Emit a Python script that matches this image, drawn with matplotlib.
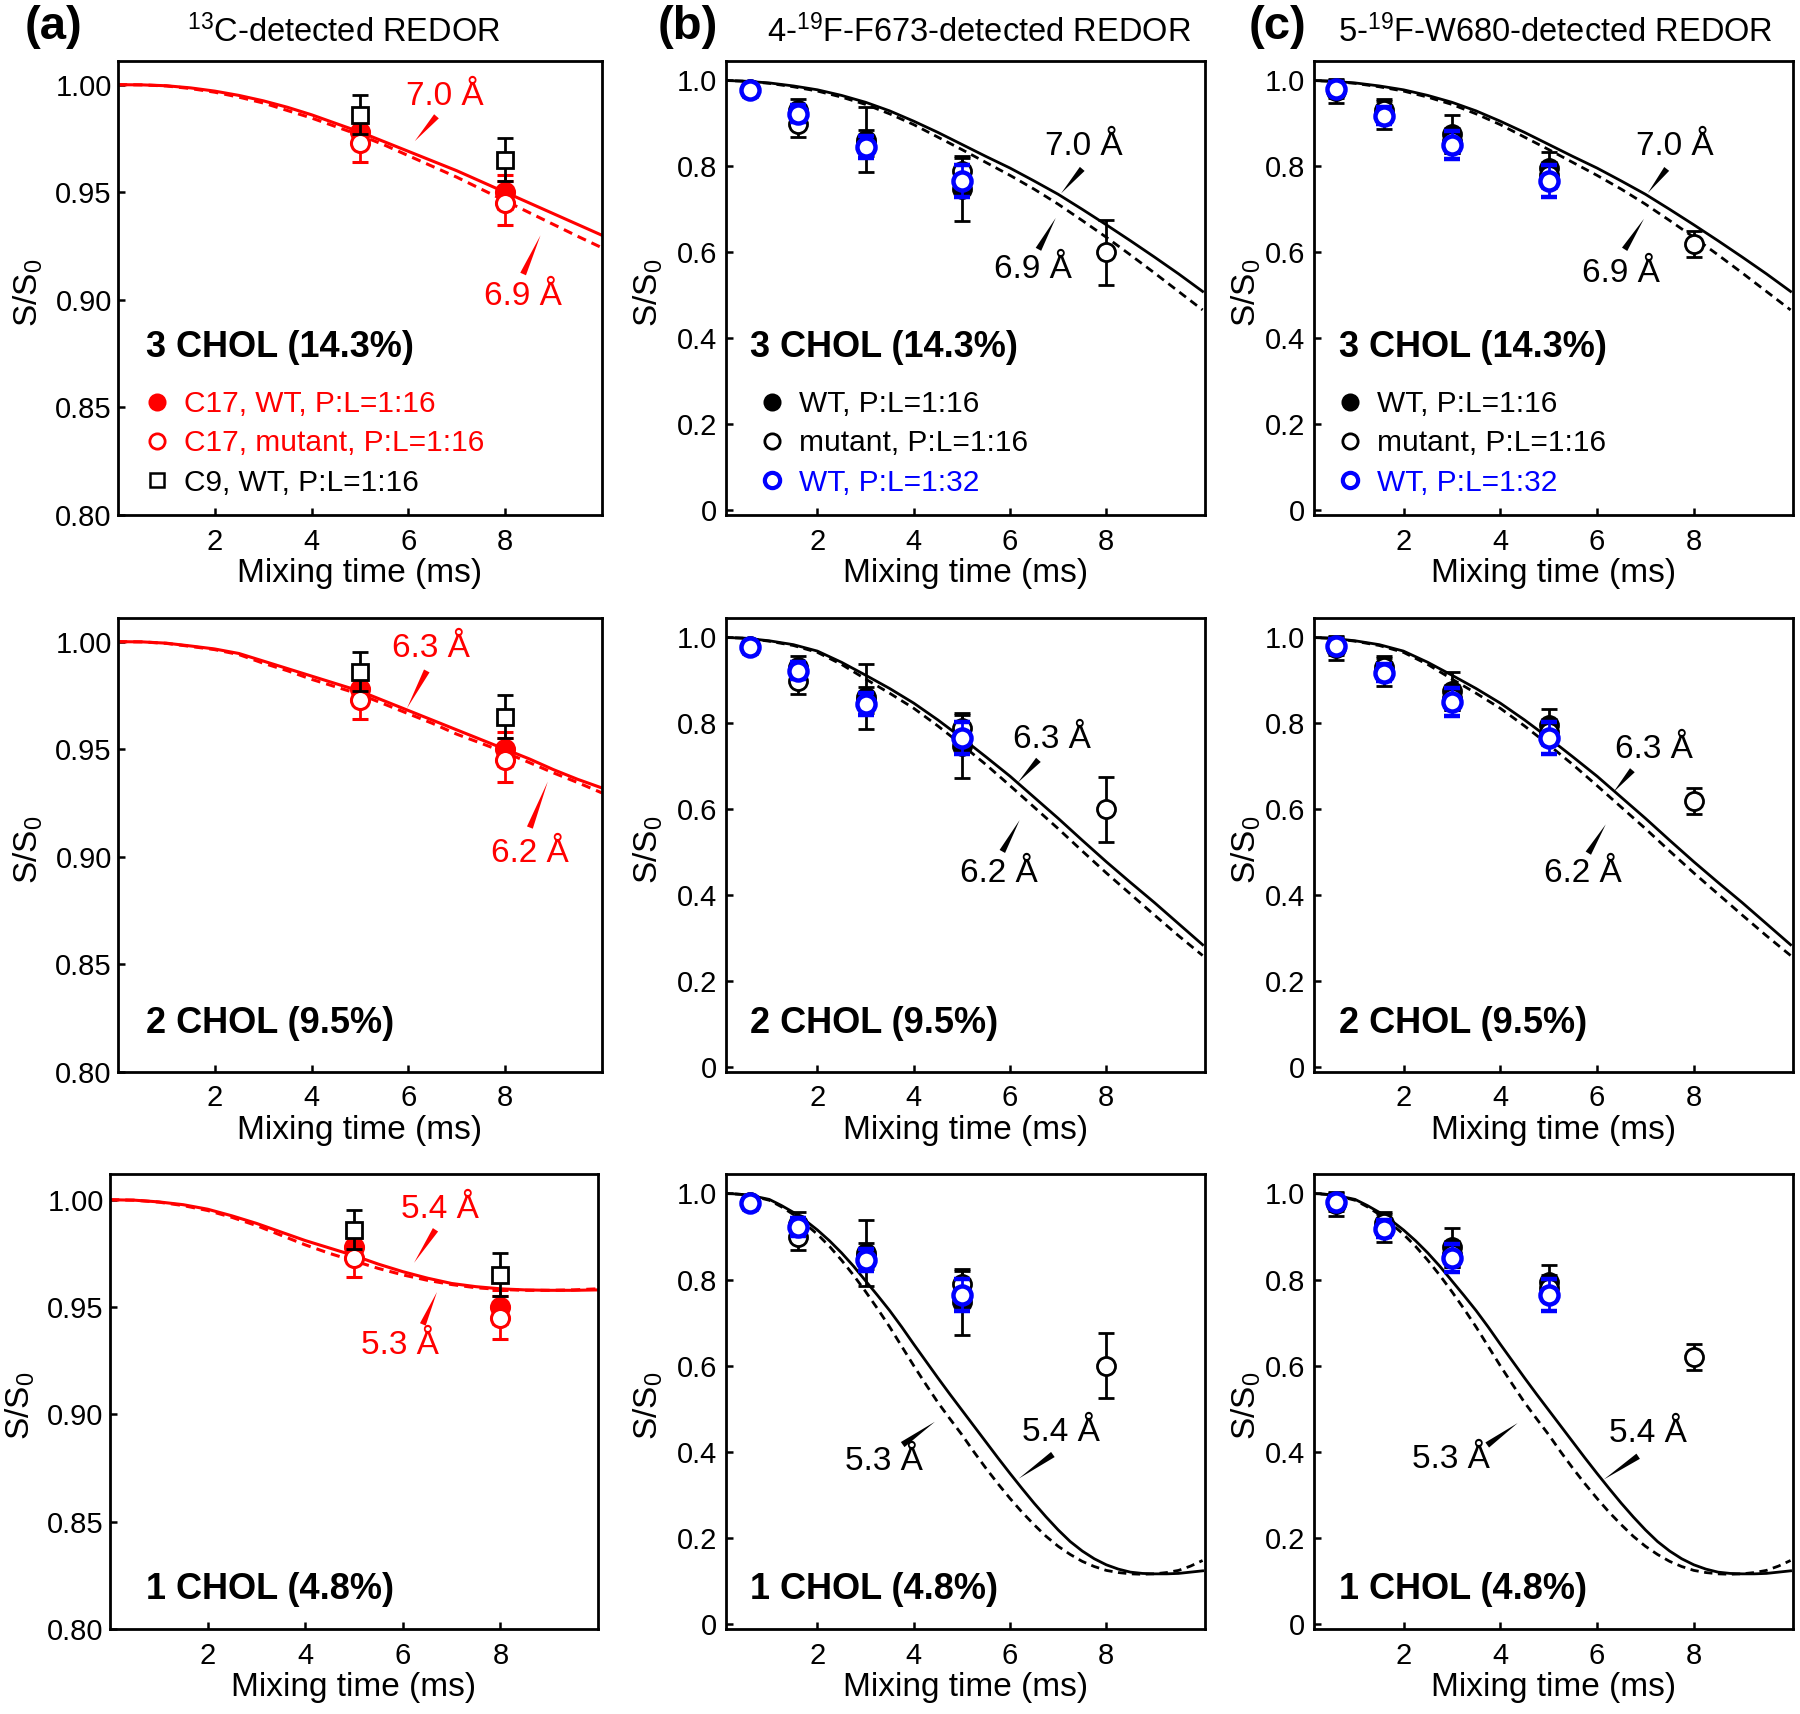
import matplotlib
matplotlib.use('Agg')
import matplotlib.pyplot as plt
from matplotlib.lines import Line2D
from matplotlib.ticker import FixedLocator, FixedFormatter

plt.rcParams['font.family'] = ['Liberation Sans', 'DejaVu Sans']
plt.rcParams['mathtext.default'] = 'regular'

RED = '#ff0000'
BLUE = '#0000ff'
BLACK = '#000000'

# ---------------- simulated REDOR curves ----------------
t_grid = [0.0, 0.5, 1.0, 1.5, 2.0, 2.5, 3.0, 3.5, 4.0, 4.5, 5.0,
          5.5, 6.0, 6.5, 7.0, 7.5, 8.0, 8.5, 9.0, 9.5, 10.0]
t_fine = [0.0, 0.25, 0.5, 0.75, 1.0, 1.25, 1.5, 1.75, 2.0, 2.25, 2.5, 2.75,
          3.0, 3.25, 3.5, 3.75, 4.0, 4.25, 4.5, 4.75, 5.0, 5.25, 5.5, 5.75,
          6.0, 6.25, 6.5, 6.75, 7.0, 7.25, 7.5, 7.75, 8.0, 8.25, 8.5, 8.75,
          9.0, 9.25, 9.5, 9.75, 10.0]

# column (a): 13C-detected
a1_solid = [1.0, 0.9999, 0.9995, 0.9985, 0.997, 0.995, 0.9925, 0.9895, 0.986, 0.982, 0.978,
            0.9735, 0.969, 0.9645, 0.960, 0.955, 0.950, 0.945, 0.940, 0.935, 0.930]   # 7.0 A
a1_dash = [1.0, 0.9999, 0.9994, 0.9982, 0.9965, 0.9942, 0.9915, 0.988, 0.9845, 0.9805, 0.9765,
           0.972, 0.967, 0.962, 0.957, 0.9515, 0.946, 0.9405, 0.935, 0.9295, 0.9242]  # 6.9 A
a2_solid = [1.0, 0.9999, 0.9993, 0.998, 0.9966, 0.9945, 0.991, 0.9875, 0.984, 0.9805, 0.977,
            0.9725, 0.968, 0.9635, 0.959, 0.9545, 0.950, 0.9455, 0.9405, 0.936, 0.932]  # 6.3 A
a2_dash = [1.0, 0.9999, 0.9992, 0.9978, 0.9963, 0.994, 0.990, 0.9865, 0.9825, 0.979, 0.9755,
           0.971, 0.9665, 0.962, 0.957, 0.9528, 0.9485, 0.9438, 0.939, 0.9345, 0.9297]  # 6.2 A
a3_solid = [1.0, 0.9998, 0.999, 0.9977, 0.9956, 0.9925, 0.989, 0.985, 0.981, 0.9775, 0.974,
            0.970, 0.9665, 0.9635, 0.961, 0.9595, 0.9585, 0.958, 0.9578, 0.9578, 0.958]  # 5.4 A
a3_dash = [1.0, 0.9998, 0.9989, 0.9973, 0.995, 0.9918, 0.988, 0.9835, 0.979, 0.975, 0.9715,
           0.968, 0.965, 0.9625, 0.9605, 0.959, 0.9582, 0.9578, 0.9578, 0.958, 0.9585]  # 5.3 A

# columns (b) and (c): 19F-detected
bc1_solid = [1.0, 0.998, 0.994, 0.987, 0.978, 0.965, 0.949, 0.929, 0.905, 0.879, 0.851,
             0.823, 0.796, 0.766, 0.735, 0.700, 0.664, 0.627, 0.589, 0.550, 0.509]  # 7.0 A
bc1_dash = [1.0, 0.998, 0.993, 0.985, 0.975, 0.961, 0.944, 0.922, 0.897, 0.868, 0.839,
            0.809, 0.779, 0.747, 0.712, 0.674, 0.635, 0.594, 0.552, 0.509, 0.466]  # 6.9 A
bc2_solid = [1.0, 0.998, 0.992, 0.983, 0.968, 0.942, 0.912, 0.881, 0.847, 0.808, 0.766,
             0.722, 0.677, 0.628, 0.579, 0.528, 0.478, 0.430, 0.383, 0.334, 0.285]  # 6.3 A
bc2_dash = [1.0, 0.998, 0.991, 0.981, 0.965, 0.937, 0.903, 0.870, 0.835, 0.794, 0.750,
            0.704, 0.655, 0.605, 0.555, 0.503, 0.452, 0.403, 0.354, 0.306, 0.260]  # 6.2 A
# row 3 read on the finer 0.25 ms grid
bc3_solid = [1.0, 0.999, 0.997, 0.992, 0.986, 0.972, 0.956, 0.937, 0.915, 0.890, 0.862, 0.831,
             0.797, 0.763, 0.728, 0.690, 0.650, 0.611, 0.572, 0.534, 0.497, 0.460, 0.423, 0.386,
             0.350, 0.315, 0.281, 0.249, 0.219, 0.192, 0.170, 0.152, 0.138, 0.128, 0.121, 0.118,
             0.117, 0.117, 0.118, 0.121, 0.124]  # 5.4 A
bc3_dash = [1.0, 0.999, 0.997, 0.991, 0.984, 0.969, 0.951, 0.929, 0.905, 0.877, 0.845, 0.810,
            0.772, 0.732, 0.690, 0.645, 0.600, 0.557, 0.515, 0.477, 0.440, 0.400, 0.362, 0.326,
            0.292, 0.260, 0.231, 0.204, 0.181, 0.162, 0.146, 0.134, 0.125, 0.120, 0.117, 0.116,
            0.117, 0.120, 0.125, 0.135, 0.148]  # 5.3 A

# ---------------- experimental data ----------------
# (a) 13C-detected
t_a = [5.0, 8.0]
c17_wt = [0.978, 0.950]
c17_wt_err = [0.007, 0.008]
c17_mut = [0.973, 0.945]
c17_mut_err = [0.009, 0.010]
c9_wt = [0.986, 0.965]
c9_wt_err = [0.009, 0.010]

# (b) 4-19F-F673-detected
t_wt = [0.6, 1.6, 3.0, 5.0]
t_mut = [0.6, 1.6, 3.0, 5.0, 8.0]
b_wt16 = [0.977, 0.930, 0.862, 0.748]
b_wt16_err = [0.015, 0.027, 0.076, 0.076]
b_mut16 = [0.980, 0.898, 0.855, 0.790, 0.600]
b_mut16_err = [0.015, 0.030, 0.030, 0.030, 0.075]
b_wt32 = [0.977, 0.922, 0.845, 0.765]
b_wt32_err = [0.010, 0.020, 0.025, 0.037]

# (c) 5-19F-W680-detected
c_wt16 = [0.975, 0.922, 0.875, 0.795]
c_wt16_err = [0.028, 0.035, 0.045, 0.038]
c_mut16 = [0.980, 0.932, 0.860, 0.780, 0.620]
c_mut16_err = [0.020, 0.020, 0.030, 0.030, 0.030]
c_wt32 = [0.980, 0.918, 0.850, 0.765]
c_wt32_err = [0.015, 0.020, 0.033, 0.037]

chol_labels = ['3 CHOL (14.3%)', '2 CHOL (9.5%)', '1 CHOL (4.8%)']
col_titles = [r'$^{13}$C-detected REDOR', r'4-$^{19}$F-F673-detected REDOR',
              r'5-$^{19}$F-W680-detected REDOR']
panel_letters = ['(a)', '(b)', '(c)']
a_curves = [(a1_solid, a1_dash), (a2_solid, a2_dash), (a3_solid, a3_dash)]
bc_curves = [(t_grid, bc1_solid, bc1_dash), (t_grid, bc2_solid, bc2_dash),
             (t_fine, bc3_solid, bc3_dash)]
dist_labels = [('7.0 Å', '6.9 Å'), ('6.3 Å', '6.2 Å'), ('5.4 Å', '5.3 Å')]
a_yticks = [0.80, 0.85, 0.90, 0.95, 1.00]
bc_yticks = [0, 0.2, 0.4, 0.6, 0.8, 1.0]
bc_yticklabels = ['0', '0.2', '0.4', '0.6', '0.8', '1.0']
xticks = [2, 4, 6, 8]

# ---------------- figure ----------------
W, H = 1800, 1714
fig = plt.figure(figsize=(W / 100, H / 100), dpi=100)

rows_px = [(61, 515), (618, 1072), (1174, 1629)]
cols_px = [(118, 602), (726, 1205), (1314, 1793)]


def make_ax(r, c):
    top, bot = rows_px[r]
    left, right = cols_px[c]
    if r == 2 and c == 0:
        left, right = 110, 598
    return fig.add_axes([left / W, 1 - bot / H, (right - left) / W, (bot - top) / H])


def style(ax, col):
    for sp in ax.spines.values():
        sp.set_linewidth(2.0)
    ax.tick_params(axis='x', direction='in', length=5, width=1.8, labelsize=21, pad=9,
                   top=False)
    ax.tick_params(axis='y', direction='in', length=5, width=1.8, labelsize=21,
                   pad=4.5 if col == 0 else 6.5, right=False)
    ax.xaxis.set_major_locator(FixedLocator(xticks))
    ax.set_xlabel('Mixing time (ms)', fontsize=24, labelpad=2)
    ax.set_ylabel('S/S$_0$', fontsize=24)
    xlab = {0: -0.15, 1: -0.127, 2: -0.107}[col]
    ax.yaxis.set_label_coords(xlab, 0.49)


def wedge(ax, text, txy, start, tip, color):
    ax.text(txy[0], txy[1], text, ha='center', va='center', fontsize=24, color=color)
    ax.annotate('', xy=tip, xytext=start,
                arrowprops=dict(arrowstyle='wedge,tail_width=0.45,shrink_factor=0.5',
                                color=color, lw=0, shrinkA=0, shrinkB=0,
                                mutation_scale=10))


eb_kw = dict(elinewidth=2.0, capsize=6, capthick=2.0)

# annotation positions (text center, wedge start, wedge tip) per row
a_ann = [
    [((6.75, 0.9944), (6.58, 0.9853), (6.13, 0.9737)),
     ((8.37, 0.9017), (8.37, 0.9120), (8.73, 0.9300))],
    [((6.46, 0.9970), (6.38, 0.9864), (5.97, 0.9690)),
     ((8.51, 0.9017), (8.51, 0.9136), (8.88, 0.9350))],
    [((6.76, 0.9956), (6.67, 0.9860), (6.23, 0.9706)),
     ((5.94, 0.9319), (6.41, 0.9419), (6.70, 0.9570))],
]
b_ann = [
    [((7.54, 0.845), (7.50, 0.794), (7.06, 0.737)),
     ((6.47, 0.560), (6.59, 0.607), (6.95, 0.680))],
    [((6.87, 0.762), (6.59, 0.715), (6.16, 0.662)),
     ((5.76, 0.451), (5.84, 0.502), (6.20, 0.575))],
    [((7.05, 0.445), (6.89, 0.394), (6.18, 0.338)),
     ((3.38, 0.377), (3.77, 0.417), (4.44, 0.470))],
]
c_ann = [
    [((7.60, 0.847), (7.44, 0.794), (7.05, 0.738)),
     ((6.50, 0.551), (6.57, 0.607), (6.97, 0.678))],
    [((7.17, 0.740), (6.73, 0.691), (6.34, 0.640)),
     ((5.71, 0.451), (5.82, 0.498), (6.18, 0.565))],
    [((7.05, 0.443), (6.85, 0.390), (6.14, 0.336)),
     ((2.98, 0.382), (3.73, 0.416), (4.36, 0.467))],
]

chol_pos = {0: [(0.058, 0.370), (0.058, 0.106), (0.074, 0.086)],
            1: [(0.050, 0.370), (0.050, 0.106), (0.050, 0.086)],
            2: [(0.052, 0.370), (0.052, 0.106), (0.052, 0.086)]}

leg_kw = dict(loc='upper left', frameon=False, fontsize=21.5, handlelength=0.8,
              handletextpad=0.5, borderpad=0, borderaxespad=0, labelspacing=0.38)

for r in range(3):
    # ---------------- column (a) ----------------
    ax = make_ax(r, 0)
    solid, dash = a_curves[r]
    ax.plot(t_grid, solid, color=RED, lw=2.2, zorder=2)
    ax.plot(t_grid, dash, color=RED, lw=2.2, dashes=(3, 2), zorder=2)
    ax.errorbar(t_a, c17_wt, yerr=c17_wt_err, fmt='o', color=RED, ms=13, mec=RED,
                mfc=RED, mew=2.2, zorder=3, **eb_kw)
    ax.errorbar(t_a, c17_mut, yerr=c17_mut_err, fmt='o', color=RED, ms=13, mec=RED,
                mfc='white', mew=2.2, zorder=4, **eb_kw)
    ax.errorbar(t_a, c9_wt, yerr=c9_wt_err, fmt='s', color=BLACK, ms=12, mec=BLACK,
                mfc='white', mew=2.0, zorder=5, **eb_kw)
    ax.set_xlim(0, 10)
    ax.set_ylim(0.80, 1.012 if r == 2 else 1.011)
    ax.yaxis.set_major_locator(FixedLocator(a_yticks))
    ax.yaxis.set_major_formatter(FixedFormatter(['%.2f' % v for v in a_yticks]))
    style(ax, 0)
    (t1, s1, p1), (t2, s2, p2) = a_ann[r]
    wedge(ax, dist_labels[r][0], t1, s1, p1, RED)
    wedge(ax, dist_labels[r][1], t2, s2, p2, RED)
    cx, cy = chol_pos[0][r]
    ax.text(cx, cy, chol_labels[r], transform=ax.transAxes, fontsize=26,
            fontweight='bold', ha='left', va='center')
    if r == 0:
        handles = [Line2D([], [], ls='none', marker='o', ms=11, mfc=RED, mec=RED, mew=2.0),
                   Line2D([], [], ls='none', marker='o', ms=11, mfc='white', mec=RED, mew=2.0),
                   Line2D([], [], ls='none', marker='s', ms=10, mfc='white', mec=BLACK, mew=1.8)]
        ax.legend(handles, ['C17, WT, P:L=1:16', 'C17, mutant, P:L=1:16', 'C9, WT, P:L=1:16'],
                  bbox_to_anchor=(0.056, 0.275), labelcolor=[RED, RED, BLACK], **leg_kw)

    # ---------------- columns (b) and (c) ----------------
    for c, (wt16, wt16e, mut16, mut16e, wt32, wt32e, ann) in zip(
            [1, 2],
            [(b_wt16, b_wt16_err, b_mut16, b_mut16_err, b_wt32, b_wt32_err, b_ann),
             (c_wt16, c_wt16_err, c_mut16, c_mut16_err, c_wt32, c_wt32_err, c_ann)]):
        ax = make_ax(r, c)
        tg, solid, dash = bc_curves[r]
        ax.plot(tg, solid, color=BLACK, lw=2.0, zorder=2)
        ax.plot(tg, dash, color=BLACK, lw=2.0, dashes=(3, 2), zorder=2)
        ax.errorbar(t_wt, wt16, yerr=wt16e, fmt='o', color=BLACK, ms=13, mec=BLACK,
                    mfc=BLACK, mew=2.0, zorder=3, **eb_kw)
        ax.errorbar(t_mut, mut16, yerr=mut16e, fmt='o', color=BLACK, ms=13, mec=BLACK,
                    mfc='white', mew=2.0, zorder=4, **eb_kw)
        ax.errorbar(t_wt, wt32, yerr=wt32e, fmt='o', color=BLUE, ms=13, mec=BLUE,
                    mfc='white', mew=3.2, zorder=5, **eb_kw)
        ax.set_xlim(0.1 if c == 1 else 0.15, 10.05)
        ax.set_ylim(-0.011, 1.045)
        ax.yaxis.set_major_locator(FixedLocator(bc_yticks))
        ax.yaxis.set_major_formatter(FixedFormatter(bc_yticklabels))
        style(ax, c)
        (t1, s1, p1), (t2, s2, p2) = ann[r]
        wedge(ax, dist_labels[r][0], t1, s1, p1, BLACK)
        wedge(ax, dist_labels[r][1], t2, s2, p2, BLACK)
        cx, cy = chol_pos[c][r]
        ax.text(cx, cy, chol_labels[r], transform=ax.transAxes, fontsize=26,
                fontweight='bold', ha='left', va='center')
        if r == 0:
            handles = [Line2D([], [], ls='none', marker='o', ms=11, mfc=BLACK, mec=BLACK, mew=2.0),
                       Line2D([], [], ls='none', marker='o', ms=11, mfc='white', mec=BLACK, mew=2.0),
                       Line2D([], [], ls='none', marker='o', ms=11, mfc='white', mec=BLUE, mew=3.0)]
            lx = 0.072 if c == 1 else 0.050
            ax.legend(handles, ['WT, P:L=1:16', 'mutant, P:L=1:16', 'WT, P:L=1:32'],
                      bbox_to_anchor=(lx, 0.275), labelcolor=[BLACK, BLACK, BLUE], **leg_kw)

# panel letters and column titles
letter_x = [25, 658, 1249]
title_x = [344, 979, 1556]
for i in range(3):
    fig.text(letter_x[i] / W, 1 - 27 / H, panel_letters[i], fontsize=34,
             fontweight='bold', ha='left', va='center')
    fig.text(title_x[i] / W, 1 - 32 / H, col_titles[i], fontsize=23.5,
             ha='center', va='center')

fig.savefig('out.png', dpi=100)
